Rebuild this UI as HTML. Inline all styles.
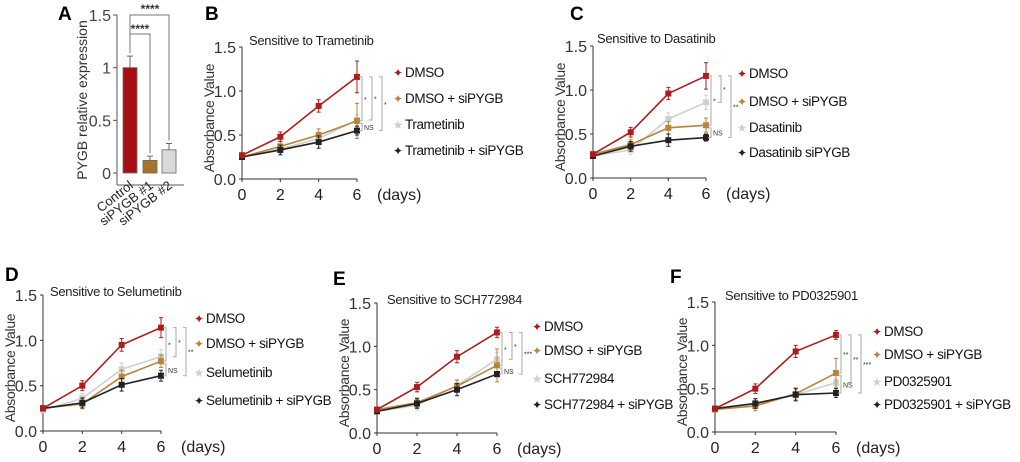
<!DOCTYPE html>
<html><head><meta charset="utf-8"><style>
body{margin:0;background:#fff;}
svg{display:block;font-family:"Liberation Sans",Arial,sans-serif;}
</style></head><body>
<svg id="fig" width="1020" height="462" viewBox="0 0 1020 462"></svg>
<script>
const NS="http://www.w3.org/2000/svg";
const svg=document.getElementById('fig');
function el(t,a,p){const e=document.createElementNS(NS,t);for(const k in a)e.setAttribute(k,a[k]);(p||svg).appendChild(e);return e;}

// Panel A data
const barCats=["Control","siPYGB #1","siPYGB #2"];
const barVals=[1.0,0.12,0.22];
const barErrs=[0.11,0.04,0.06];
const barColors=["#a80f12","#a8742a","#d9d9d9"];

// Days
const days=[0,2,4,6];
const seriesColors=["#b01c1c","#b8863b","#cfcfcf","#222"];
// Panel B
const bDMSO=[0.27,0.48,0.83,1.16], bSi=[0.25,0.37,0.50,0.66], bDrug=[0.25,0.34,0.46,0.67], bDrugSi=[0.25,0.33,0.42,0.55];
const bErr=[0.18,0.2,0.06,0.05];
// Panel C
const cDMSO=[0.27,0.52,0.96,1.16], cSi=[0.27,0.38,0.57,0.60], cDrug=[0.25,0.32,0.67,0.86], cDrugSi=[0.25,0.36,0.43,0.46];
const cErr=[0.15,0.08,0.08,0.04];
// Panel D
const dDMSO=[0.25,0.50,0.95,1.14], dSi=[0.25,0.30,0.60,0.77], dDrug=[0.23,0.36,0.68,0.82], dDrugSi=[0.25,0.31,0.51,0.61];
const dErr=[0.11,0.07,0.08,0.06];
// Panel E
const eDMSO=[0.27,0.53,0.88,1.16], eSi=[0.27,0.35,0.54,0.78], eDrug=[0.25,0.32,0.55,0.85], eDrugSi=[0.25,0.34,0.50,0.68];
const eErr=[0.06,0.19,0.08,0.03];
// Panel F
const fDMSO=[0.27,0.50,0.93,1.12], fSi=[0.26,0.30,0.44,0.68], fDrug=[0.27,0.32,0.43,0.57], fDrugSi=[0.27,0.33,0.43,0.45];
const fErr=[0.05,0.17,0.04,0.05];
const yTicks=["0.0","0.5","1.0","1.5"];

// ---------- Panel A ----------
(function(){
  const g=el('g',{});
  
  const ax=117,y0=173,y15=15;
  const Y=v=>y0-(v/1.5)*(y0-y15);
  const lab=el('text',{x:58,y:20,'font-size':19,'font-weight':'bold'},g);lab.textContent='A';
  
  el('line',{x1:ax,y1:y15,x2:ax,y2:185,stroke:'#555','stroke-width':1},g);
  el('line',{x1:ax,y1:185,x2:184,y2:185,stroke:'#555','stroke-width':1},g);
  ["0","0.5","1","1.5"].forEach((t,i)=>{const v=i*0.5;
    el('line',{x1:ax-4,y1:Y(v),x2:ax,y2:Y(v),stroke:'#555'},g);
    const tx=el('text',{x:ax-6,y:Y(v)+6,'font-size':16,'text-anchor':'end',fill:'#444'},g);tx.textContent=t;
    });
  const yt=el('text',{transform:'translate(87,100) rotate(-90)','font-size':14,'text-anchor':'middle',fill:'#333'},g);
  yt.textContent='PYGB  relative expression';
  
  const xs=[130,150,169];
  barVals.forEach((v,i)=>{
    const r=el('rect',{x:xs[i]-7,y:Y(v),width:14,height:y0-Y(v),fill:barColors[i],stroke:'#666','stroke-width':0.8},g);
    
    const t=Y(v+barErrs[i]);
    el('line',{x1:xs[i],y1:t,x2:xs[i],y2:Y(v),stroke:'#666'},g);
    el('line',{x1:xs[i]-3,y1:t,x2:xs[i]+3,y2:t,stroke:'#666'},g);
    const tx=el('text',{transform:`translate(${xs[i]+4},${y0+14}) rotate(-38)`,'font-size':13,'text-anchor':'end',fill:'#222'},g);
    tx.textContent=barCats[i];
  });
  el('path',{d:`M130,42 V34 H150 V${Y(0.16)-3}`,fill:'none',stroke:'#777'},g);
  el('path',{d:`M130,${Y(1.11)-3} V15 H169 V${Y(0.28)-3}`,fill:'none',stroke:'#777'},g);
  let s=el('text',{x:140,y:33,'font-size':12,'font-weight':'bold','text-anchor':'middle',fill:'#333'},g);s.textContent='****';
  s=el('text',{x:150,y:13,'font-size':12,'font-weight':'bold','text-anchor':'middle',fill:'#333'},g);s.textContent='****';
})();

// ---------- Line panels ----------
function panel(cfg){
  const g=el('g',{});
  
  const X=d=>cfg.ax+(d/6)*(cfg.x6-cfg.ax);
  const Y=v=>cfg.y0-(v/1.5)*(cfg.y0-cfg.y15);
  const L=el('text',{x:cfg.lx,y:cfg.ly,'font-size':19,'font-weight':'bold'},g);L.textContent=cfg.id.toUpperCase();
  
  el('line',{x1:cfg.ax,y1:cfg.y15,x2:cfg.ax,y2:cfg.y0,stroke:'#333'},g);
  el('line',{x1:cfg.ax,y1:cfg.y0,x2:cfg.x6,y2:cfg.y0,stroke:'#333'},g);
  yTicks.forEach((t,i)=>{const v=i*0.5;
    el('line',{x1:cfg.ax-3,y1:Y(v),x2:cfg.ax,y2:Y(v),stroke:'#333'},g);
    const tx=el('text',{x:cfg.ax-6,y:Y(v)+6,'font-size':16,'text-anchor':'end',fill:'#333'},g);tx.textContent=t;
    });
  days.forEach(d=>{
    el('line',{x1:X(d),y1:cfg.y0,x2:X(d),y2:cfg.y0+3,stroke:'#333'},g);
    const tx=el('text',{x:X(d),y:cfg.y0+21,'font-size':16,'text-anchor':'middle',fill:'#222'},g);tx.textContent=String(d);
    });
  const dy=el('text',{x:X(6)+20,y:cfg.y0+21,'font-size':16,fill:'#222'},g);dy.textContent='(days)';
  
  const yt=el('text',{transform:`translate(${cfg.ax-28},${(cfg.y0+cfg.y15)/2+5}) rotate(-90)`,'font-size':14,'text-anchor':'middle',fill:'#333','letter-spacing':-0.3},g);
  yt.textContent='Absorbance Value';
  const ti=el('text',{x:cfg.tx,y:cfg.ty,'font-size':13,fill:'#222','letter-spacing':-0.3},g);ti.textContent=cfg.title;
  
  const order=[2,1,3,0];
  order.forEach(si=>{
    const vals=cfg.series[si],c=seriesColors[si];
    const pts=days.map((d,i)=>X(d)+','+Y(vals[i])).join(' ');
    const pl=el('polyline',{points:pts,fill:'none',stroke:c,'stroke-width':1.6},g);
    
    
    days.forEach((d,i)=>{
      const e=i===3?cfg.err[si]:(i===0?0.02:0.04+0.03*i/2);
      el('line',{x1:X(d),y1:Y(vals[i]+e),x2:X(d),y2:Y(vals[i]-e),stroke:c,'stroke-width':1},g);
      el('line',{x1:X(d)-2,y1:Y(vals[i]+e),x2:X(d)+2,y2:Y(vals[i]+e),stroke:c},g);
      el('line',{x1:X(d)-2,y1:Y(vals[i]-e),x2:X(d)+2,y2:Y(vals[i]-e),stroke:c},g);
      const m=el('rect',{x:X(d)-3,y:Y(vals[i])-3,width:6,height:6,fill:c},g);
      
    });
  });
  const bx=X(6)+5, s=cfg.series;
  const br=(x,a,b,txt)=>{el('path',{d:`M${x-3},${Y(a)} H${x} V${Y(b)} H${x-3}`,fill:'none',stroke:'#aaa'},g);
    const t=el('text',{x:x+2,y:(Y(a)+Y(b))/2+3,'font-size':7,fill:'#333'},g);t.textContent=txt;};
  br(bx,s[0][3],s[1][3],cfg.sig[0]);br(bx+10,s[0][3],s[2][3],cfg.sig[1]);br(bx+20,s[0][3],s[3][3],cfg.sig[2]);
  br(bx,s[1][3]-0.03,s[3][3],'NS');
  cfg.names.forEach((n,i)=>{
    const ly=cfg.leg[i];
    const m=el('text',{x:cfg.legx,y:ly+5,'font-size':12,'text-anchor':'middle',fill:seriesColors[i]},g);m.textContent=i===2?'★':'✦';
    const t=el('text',{x:cfg.legx+7,y:ly+5,'font-size':13.5,fill:'#111','letter-spacing':-0.4},g);t.textContent=n;
    
  });
}
panel({id:'b',ax:242,x6:357,y0:179,y15:47,lx:205,ly:20,tx:249,ty:45,title:'Sensitive to Trametinib',
  series:[bDMSO,bSi,bDrug,bDrugSi],err:bErr,sig:['*','*','*'],legx:398,leg:[72,98,124,150],
  names:['DMSO','DMSO + siPYGB','Trametinib','Trametinib + siPYGB']});
panel({id:'c',ax:593,x6:706,y0:178,y15:46,lx:570,ly:20,tx:597,ty:43,title:'Sensitive to Dasatinib',
  series:[cDMSO,cSi,cDrug,cDrugSi],err:cErr,sig:['*','*','**'],legx:742,leg:[73,101,127,152],
  names:['DMSO','DMSO + siPYGB','Dasatinib','Dasatinib siPYGB']});
panel({id:'d',ax:43,x6:161,y0:431,y15:295,lx:5,ly:281,tx:50,ty:296,title:'Sensitive to Selumetinib',
  series:[dDMSO,dSi,dDrug,dDrugSi],err:dErr,sig:['*','*','**'],legx:199,leg:[318,343,372,400],
  names:['DMSO','DMSO + siPYGB','Selumetinib','Selumetinib + siPYGB']});
panel({id:'e',ax:377,x6:497,y0:433,y15:303,lx:333,ly:285,tx:387,ty:304,title:'Sensitive to SCH772984',
  series:[eDMSO,eSi,eDrug,eDrugSi],err:eErr,sig:['*','*','***'],legx:537,leg:[326,350,378,404],
  names:['DMSO','DMSO + siPYGB','SCH772984','SCH772984 + siPYGB']});
panel({id:'f',ax:715,x6:836,y0:432,y15:302,lx:670,ly:283,tx:725,ty:300,title:'Sensitive to PD0325901',
  series:[fDMSO,fSi,fDrug,fDrugSi],err:fErr,sig:['**','**','***'],legx:877,leg:[331,354,381,404],
  names:['DMSO','DMSO + siPYGB','PD0325901','PD0325901 + siPYGB']});
</script>
</body></html>
